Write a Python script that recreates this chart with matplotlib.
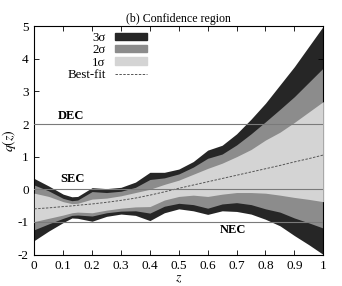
import matplotlib
matplotlib.use('Agg')
import matplotlib.pyplot as plt
from matplotlib.patches import Patch
from matplotlib.lines import Line2D

plt.rcParams['font.family'] = 'Liberation Serif'
plt.rcParams['mathtext.fontset'] = 'stix'
plt.rcParams['axes.unicode_minus'] = False

# redshift grid and bands
z = [0, 0.05, 0.1, 0.13, 0.15, 0.2, 0.25, 0.3, 0.35, 0.4, 0.45, 0.5, 0.55,
     0.6, 0.65, 0.7, 0.75, 0.8, 0.85, 0.9, 0.95, 1.0]
upper_3s = [0.33, 0.1, -0.15, -0.23, -0.22, 0.05, 0.02, 0.06, 0.22, 0.52, 0.52,
            0.62, 0.85, 1.2, 1.35, 1.7, 2.15, 2.64, 3.2, 3.76, 4.38, 5.0]
upper_2s = [0.13, -0.05, -0.28, -0.35, -0.33, -0.07, -0.1, -0.06, 0.06, 0.3, 0.35,
            0.47, 0.68, 0.95, 1.08, 1.36, 1.7, 2.07, 2.45, 2.84, 3.28, 3.72]
upper_1s = [-0.12, -0.22, -0.38, -0.44, -0.43, -0.3, -0.27, -0.2, -0.1, 0.0, 0.15,
            0.28, 0.46, 0.64, 0.8, 1.0, 1.22, 1.51, 1.75, 2.05, 2.37, 2.69]
best_fit = [-0.6, -0.57, -0.53, -0.51, -0.49, -0.45, -0.4, -0.34, -0.27, -0.18, -0.08,
            0.03, 0.13, 0.23, 0.33, 0.43, 0.53, 0.63, 0.73, 0.84, 0.94, 1.05]
lower_1s = [-0.99, -0.89, -0.79, -0.72, -0.7, -0.72, -0.64, -0.58, -0.54, -0.53, -0.33,
            -0.22, -0.18, -0.22, -0.15, -0.1, -0.1, -0.12, -0.18, -0.25, -0.31, -0.38]
lower_2s = [-1.24, -1.06, -0.89, -0.8, -0.79, -0.82, -0.72, -0.67, -0.66, -0.73, -0.52,
            -0.43, -0.47, -0.58, -0.45, -0.41, -0.47, -0.6, -0.7, -0.88, -1.03, -1.19]
lower_3s = [-1.57, -1.28, -1.02, -0.88, -0.89, -0.98, -0.83, -0.76, -0.8, -0.96, -0.72,
            -0.6, -0.66, -0.77, -0.66, -0.68, -0.76, -0.92, -1.12, -1.42, -1.7, -2.0]

conditions = [('DEC', 2.0), ('SEC', 0.0), ('NEC', -1.0)]
label_pos = {'DEC': (0.08, 2.25), 'SEC': (0.09, 0.32), 'NEC': (0.643, -1.25)}

xticks = [0, 0.1, 0.2, 0.3, 0.4, 0.5, 0.6, 0.7, 0.8, 0.9, 1]
xticklabels = ['0', '0.1', '0.2', '0.3', '0.4', '0.5', '0.6', '0.7', '0.8', '0.9', '1']
yticks = [-2, -1, 0, 1, 2, 3, 4, 5]

c3, c2, c1 = '#262626', '#8c8c8c', '#d4d4d4'

fig = plt.figure(figsize=(3.42, 2.86), dpi=100)
ax = fig.add_axes([0.1003, 0.1101, 0.845, 0.7983])

ax.fill_between(z, lower_3s, upper_3s, color=c3, lw=0, zorder=1)
ax.fill_between(z, lower_2s, upper_2s, color=c2, lw=0, zorder=2)
ax.fill_between(z, lower_1s, upper_1s, color=c1, lw=0, zorder=3)
ax.plot(z, best_fit, color='#555555', lw=0.7, ls=(0, (2.5, 1.5)), zorder=4)

for name, q in conditions:
    ax.axhline(q, color='#7a7a7a', lw=0.8, zorder=5)
    ax.text(*label_pos[name], name, fontsize=9, fontweight='bold',
            va='center', zorder=6)

ax.set_xlim(0, 1)
ax.set_ylim(-2, 5)
ax.set_xticks(xticks)
ax.set_xticklabels(xticklabels)
ax.set_yticks(yticks)
ax.tick_params(direction='in', length=3.5, width=0.6, labelsize=9.5,
               top=True, right=True, pad=4)
for s in ax.spines.values():
    s.set_linewidth(0.8)

ax.set_xlabel('$z$', fontsize=10, labelpad=0)
ax.set_ylabel('$q(z)$', fontsize=10, labelpad=0)
ax.set_title('(b) Confidence region', fontsize=8.6, pad=3)

handles = [Patch(color=c3), Patch(color=c2), Patch(color=c1),
           Line2D([], [], color='#555555', lw=0.7, ls=(0, (2.5, 1.5)))]
labels = ['3σ', '2σ', '1σ', 'Best-fit']
ax.legend(handles, labels, loc='upper right', bbox_to_anchor=(0.39, 0.975),
          markerfirst=False, frameon=False, fontsize=9.3, handlelength=2.5,
          handleheight=0.5, labelspacing=0.03, handletextpad=0.7,
          borderaxespad=0.0, borderpad=0.0)

fig.savefig('out.png', dpi=100)
